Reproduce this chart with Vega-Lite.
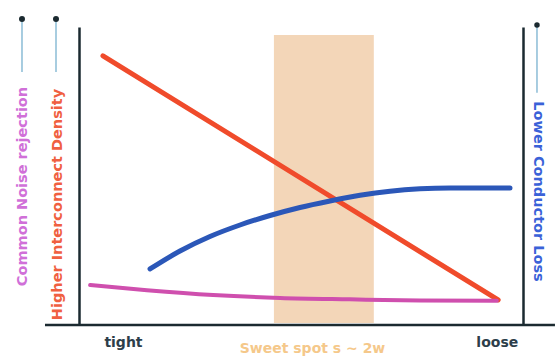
{
  "$schema": "https://vega.github.io/schema/vega-lite/v6.json",
  "width": 444,
  "height": 298,
  "autosize": {"type": "none"},
  "padding": {"left": 79, "top": 27, "right": 32, "bottom": 33},
  "background": "white",
  "config": {
    "view": {"stroke": null},
    "axis": {"grid": false, "ticks": false, "labelFont": "DejaVu Sans", "titleFont": "DejaVu Sans", "titleFontWeight": "bold", "labelFontWeight": "bold"}
  },
  "datasets": {
    "spot": [{"start": 0.439, "end": 0.664, "low": 0.007, "high": 0.973}],
    "density": [
      {"spacing": 0.054, "value": 0.903},
      {"spacing": 0.944, "value": 0.084}
    ],
    "noise": [
      {"spacing": 0.025, "value": 0.134},
      {"spacing": 0.153, "value": 0.117},
      {"spacing": 0.302, "value": 0.101},
      {"spacing": 0.453, "value": 0.091},
      {"spacing": 0.610, "value": 0.086},
      {"spacing": 0.768, "value": 0.082},
      {"spacing": 0.941, "value": 0.081}
    ],
    "loss": [
      {"spacing": 0.160, "value": 0.188},
      {"spacing": 0.2275, "value": 0.2483},
      {"spacing": 0.295, "value": 0.2970},
      {"spacing": 0.3626, "value": 0.3356},
      {"spacing": 0.4302, "value": 0.3674},
      {"spacing": 0.4977, "value": 0.3943},
      {"spacing": 0.5653, "value": 0.4161},
      {"spacing": 0.6329, "value": 0.4352},
      {"spacing": 0.7005, "value": 0.4490},
      {"spacing": 0.768, "value": 0.4570},
      {"spacing": 0.8356, "value": 0.4597},
      {"spacing": 0.9707, "value": 0.4597}
    ],
    "one": [{}]
  },
  "resolve": {"scale": {"y": "independent"}, "axis": {"y": "independent"}},
  "layer": [
    {
      "data": {"name": "spot"},
      "mark": {"type": "rect", "color": "#f3d6b8"},
      "encoding": {
        "x": {"field": "start", "type": "quantitative", "scale": {"domain": [0, 1], "nice": false}, "title": "Sweet spot s ~ 2w",
          "axis": {"values": [0.099, 0.941], "labelExpr": "datum.value < 0.5 ? 'tight' : 'loose'", "labelFontSize": 14, "labelColor": "#2d3e4a", "labelPadding": 10, "domain": false,
            "title": "Sweet spot s ~ 2w", "titleColor": "#f5c88a", "titleFontSize": 14, "titleX": 233, "titleY": 23, "titleAlign": "center", "titleBaseline": "middle"}},
        "x2": {"field": "end"},
        "y": {"field": "low", "type": "quantitative", "scale": {"domain": [0, 1], "nice": false},
          "axis": {"orient": "left", "labels": false, "domain": true, "domainColor": "#1b2a30", "domainWidth": 2.5,
            "title": "Higher Interconnect Density", "titleColor": "#f06040", "titleFontSize": 14.5, "titleAngle": -90, "titleX": -22, "titleY": 177, "titleAlign": "center", "titleBaseline": "middle"}},
        "y2": {"field": "high"}
      }
    },
    {
      "data": {"name": "density"},
      "mark": {"type": "line", "color": "#f04b2b", "strokeWidth": 5, "strokeCap": "round"},
      "encoding": {
        "x": {"field": "spacing", "type": "quantitative", "title": "Sweet spot s ~ 2w"},
        "y": {"field": "value", "type": "quantitative", "scale": {"domain": [0, 1], "nice": false}, "axis": null}
      }
    },
    {
      "data": {"name": "noise"},
      "mark": {"type": "line", "color": "#cf4fae", "strokeWidth": 4, "strokeCap": "round", "interpolate": "monotone"},
      "encoding": {
        "x": {"field": "spacing", "type": "quantitative", "title": "Sweet spot s ~ 2w"},
        "y": {"field": "value", "type": "quantitative", "scale": {"domain": [0, 1], "nice": false},
          "axis": {"orient": "left", "labels": false, "domain": false,
            "title": "Common Noise rejection", "titleColor": "#d070d8", "titleFontSize": 14.5, "titleAngle": -90, "titleX": -57, "titleY": 159, "titleAlign": "center", "titleBaseline": "middle"}}
      }
    },
    {
      "data": {"name": "loss"},
      "mark": {"type": "line", "color": "#2b57b8", "strokeWidth": 5, "strokeCap": "round", "interpolate": "monotone"},
      "encoding": {
        "x": {"field": "spacing", "type": "quantitative", "title": "Sweet spot s ~ 2w"},
        "y": {"field": "value", "type": "quantitative", "scale": {"domain": [0, 1], "nice": false},
          "axis": {"orient": "right", "labels": false, "domain": true, "domainColor": "#1b2a30", "domainWidth": 2.5,
            "title": "Lower Conductor Loss", "titleColor": "#3a62d8", "titleFontSize": 14.5, "titleAngle": 90, "titleX": 14, "titleY": 164, "titleAlign": "center", "titleBaseline": "middle"}}
      }
    },
    {
      "data": {"name": "one"},
      "mark": {"type": "rule", "color": "#1b2a30", "strokeWidth": 2.5},
      "encoding": {
        "x": {"datum": -0.0766, "type": "quantitative", "title": "Sweet spot s ~ 2w"},
        "x2": {"datum": 1.072},
        "y": {"datum": 0, "type": "quantitative", "scale": {"domain": [0, 1], "nice": false}, "axis": null}
      }
    },
    {
      "data": {"name": "one"},
      "mark": {"type": "rule", "color": "#8bbcd6", "strokeWidth": 1.5},
      "encoding": {
        "x": {"datum": -0.1284, "type": "quantitative", "title": "Sweet spot s ~ 2w"},
        "y": {"datum": 1.027, "type": "quantitative", "scale": {"domain": [0, 1], "nice": false}, "axis": null},
        "y2": {"datum": 0.849}
      }
    },
    {
      "data": {"name": "one"},
      "mark": {"type": "rule", "color": "#8bbcd6", "strokeWidth": 1.5},
      "encoding": {
        "x": {"datum": -0.0518, "type": "quantitative", "title": "Sweet spot s ~ 2w"},
        "y": {"datum": 1.027, "type": "quantitative", "scale": {"domain": [0, 1], "nice": false}, "axis": null},
        "y2": {"datum": 0.849}
      }
    },
    {
      "data": {"name": "one"},
      "mark": {"type": "rule", "color": "#8bbcd6", "strokeWidth": 1.5},
      "encoding": {
        "x": {"datum": 1.0315, "type": "quantitative", "title": "Sweet spot s ~ 2w"},
        "y": {"datum": 1.007, "type": "quantitative", "scale": {"domain": [0, 1], "nice": false}, "axis": null},
        "y2": {"datum": 0.779}
      }
    },
    {
      "data": {"name": "one"},
      "mark": {"type": "point", "filled": true, "color": "#1b2a30", "size": 36, "opacity": 1},
      "encoding": {
        "x": {"datum": -0.1284, "type": "quantitative", "title": "Sweet spot s ~ 2w"},
        "y": {"datum": 1.027, "type": "quantitative", "scale": {"domain": [0, 1], "nice": false}, "axis": null}
      }
    },
    {
      "data": {"name": "one"},
      "mark": {"type": "point", "filled": true, "color": "#1b2a30", "size": 36, "opacity": 1},
      "encoding": {
        "x": {"datum": -0.0518, "type": "quantitative", "title": "Sweet spot s ~ 2w"},
        "y": {"datum": 1.027, "type": "quantitative", "scale": {"domain": [0, 1], "nice": false}, "axis": null}
      }
    },
    {
      "data": {"name": "one"},
      "mark": {"type": "point", "filled": true, "color": "#1b2a30", "size": 30, "opacity": 1},
      "encoding": {
        "x": {"datum": 1.0315, "type": "quantitative", "title": "Sweet spot s ~ 2w"},
        "y": {"datum": 1.007, "type": "quantitative", "scale": {"domain": [0, 1], "nice": false}, "axis": null}
      }
    }
  ]
}
